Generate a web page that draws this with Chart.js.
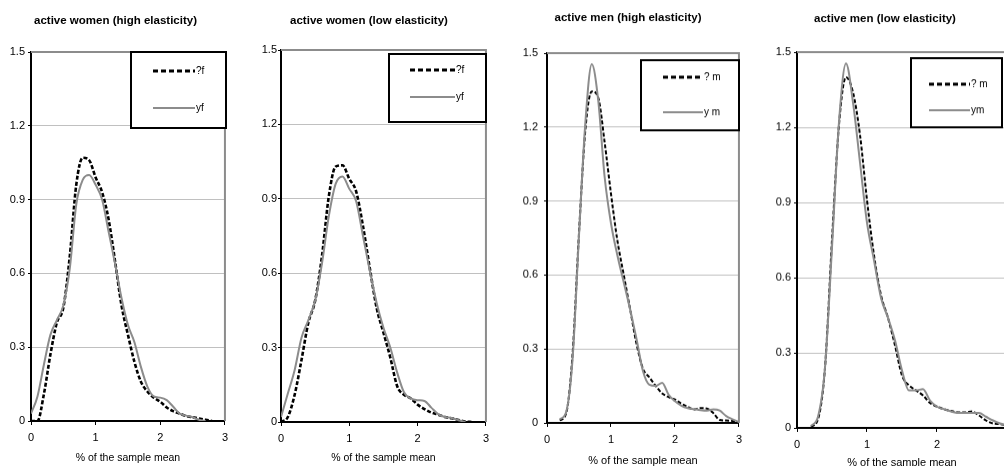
<!DOCTYPE html>
<html>
<head>
<meta charset="utf-8">
<script src="https://cdn.jsdelivr.net/npm/chart.js@4.4.0/dist/chart.umd.min.js"></script>
<style>
  html, body { margin: 0; padding: 0; background: #fff; width: 1004px; height: 466px; overflow: hidden; }
  .pan { position: absolute; top: 0; }
</style>
</head>
<body>
<div class="pan" id="p1"><canvas id="c1"></canvas></div>
<div class="pan" id="p2"><canvas id="c2"></canvas></div>
<div class="pan" id="p3"><canvas id="c3"></canvas></div>
<div class="pan" id="p4"><canvas id="c4"></canvas></div>
<script>
// densities, x = % of the sample mean
var xGrid = [0,0.1,0.2,0.3,0.4,0.5,0.6,0.7,0.8,0.9,1.0,1.1,1.2,1.3,1.4,1.5,1.6,1.7,1.8,1.9,2.0,2.1,2.2,2.3,2.4,2.5,2.6,2.7,2.8,2.9,3.0];
var xTicks = [0, 1, 2, 3];
var yTicks = [0, 0.3, 0.6, 0.9, 1.2, 1.5];

var titles = ["active women (high elasticity)", "active women (low elasticity)", "active men (high elasticity)", "active men (low elasticity)"];
var estLabels = ["?f", "?f", "? m", "? m"];
var obsLabels = ["yf", "yf", "y m", "ym"];
var xTitle = "% of the sample mean";

var womenHighEst = [0,0,0.11,0.27,0.40,0.46,0.67,0.96,1.07,1.06,0.99,0.93,0.82,0.65,0.47,0.35,0.24,0.16,0.12,0.095,0.078,0.055,0.04,0.03,0.02,0.015,0.01,0.005,0,null,null];
var womenHighObs = [0.03,0.10,0.23,0.35,0.41,0.47,0.62,0.88,0.98,1.0,0.96,0.90,0.77,0.64,0.50,0.39,0.32,0.22,0.14,0.10,0.095,0.085,0.058,0.03,0.022,0.015,0.005,0,null,null,null];
var womenLowEst = [0,0.02,0.11,0.25,0.40,0.49,0.67,0.91,1.03,1.035,0.98,0.93,0.79,0.62,0.46,0.36,0.26,0.145,0.11,0.095,0.07,0.052,0.038,0.03,0.02,0.015,0.008,0.002,0,null,null];
var womenLowObs = [0.02,0.115,0.21,0.34,0.41,0.49,0.64,0.83,0.96,0.99,0.94,0.89,0.75,0.61,0.48,0.38,0.30,0.20,0.12,0.095,0.088,0.085,0.058,0.032,0.02,0.016,0.007,0,null,null,null];
var menHighEst = [null,null,0.01,0.04,0.28,0.77,1.19,1.345,1.32,1.14,0.93,0.74,0.60,0.46,0.32,0.22,0.185,0.15,0.12,0.105,0.095,0.078,0.065,0.055,0.06,0.058,0.04,0.012,0.01,0.008,0.003];
var menHighObs = [null,null,0.015,0.045,0.26,0.76,1.22,1.455,1.31,1.00,0.81,0.68,0.57,0.46,0.34,0.21,0.155,0.15,0.163,0.115,0.088,0.07,0.06,0.056,0.052,0.05,0.055,0.05,0.028,0.015,0.004];
var menLowEst = [null,null,0.005,0.035,0.24,0.75,1.21,1.40,1.34,1.17,0.91,0.69,0.53,0.44,0.33,0.21,0.17,0.15,0.13,0.10,0.085,0.075,0.068,0.062,0.062,0.066,0.05,0.03,0.018,0.015,0.01];
var menLowObs = [null,null,0.008,0.045,0.24,0.72,1.22,1.455,1.30,1.06,0.82,0.67,0.52,0.44,0.35,0.23,0.15,0.15,0.155,0.11,0.085,0.075,0.066,0.06,0.06,0.06,0.06,0.045,0.03,0.018,0.01];

var estSeries = [womenHighEst, womenLowEst, menHighEst, menLowEst];
var obsSeries = [womenHighObs, womenLowObs, menHighObs, menLowObs];

// panel geometry: canvas box, plot edges (page px), legend box (canvas px)
var panels = [
  { left: 0,   width: 234, plotLeft: 31,  plotTop: 52, plotBottom: 421, titleY: 21, xTitleY: 458, padR: 3, yPad: 3,
    tick: 11, xt: 10.5, dashW: 2.6, leg: { x: 131, y: 52, w: 95, h: 76, l1: 153, l2: 195, r1: 71, r2: 108 } },
  { left: 245, width: 250, plotLeft: 281, plotTop: 50, plotBottom: 422, titleY: 21, xTitleY: 458, padR: 2, yPad: 1,
    tick: 11, xt: 10.5, dashW: 2.6, leg: { x: 144, y: 54, w: 97, h: 68, l1: 165, l2: 210, r1: 70, r2: 97 } },
  { left: 510, width: 238, plotLeft: 547, plotTop: 53, plotBottom: 422, titleY: 18, xTitleY: 460, padR: 2, yPad: 6,
    tick: 11, xt: 11, dashW: 2, leg: { x: 131, y: 60, w: 98, h: 70, l1: 153, l2: 193, r1: 77, r2: 112 } },
  { left: 760, width: 256, plotLeft: 797, plotTop: 52, plotBottom: 427, titleY: 19, xTitleY: 462, padR: 6, yPad: 3,
    tick: 11, xt: 11, dashW: 2, leg: { x: 151, y: 58, w: 91, h: 69, l1: 169, l2: 210, r1: 84, r2: 110 } }
];

var FONT = "'Liberation Sans', Arial, sans-serif";
var GRAY = "#8c8c8c";
var TITLE_SIZE = 11.5;

function pts(arr) {
  return xGrid.map(function(x, i) { return { x: x, y: arr[i] }; });
}

// gray top/right frame like the spreadsheet plot area
var framePlugin = {
  id: "frame",
  afterDatasetsDraw: function(chart) {
    var a = chart.chartArea, ctx = chart.ctx;
    ctx.save();
    ctx.strokeStyle = GRAY;
    ctx.lineWidth = 2;
    ctx.beginPath();
    ctx.moveTo(a.left, a.top);
    ctx.lineTo(a.right, a.top);
    ctx.lineTo(a.right, a.bottom);
    ctx.stroke();
    ctx.restore();
  }
};

// boxed legend inside the plot
var boxLegend = {
  id: "boxLegend",
  afterDraw: function(chart, args, o) {
    var g = o.box; if (!g) return;
    var ctx = chart.ctx;
    ctx.save();
    ctx.fillStyle = "#fff";
    ctx.fillRect(g.x, g.y, g.w, g.h);
    ctx.strokeStyle = "#000";
    ctx.lineWidth = 2;
    ctx.strokeRect(g.x, g.y, g.w, g.h);
    var rows = [g.r1, g.r2];
    var ds = chart.data.datasets;
    ctx.font = "10px " + FONT;
    ctx.textBaseline = "middle";
    ctx.textAlign = "left";
    for (var i = 0; i < ds.length; i++) {
      ctx.beginPath();
      ctx.strokeStyle = ds[i].borderColor;
      ctx.lineWidth = i === 0 ? 3 : 2;
      ctx.setLineDash(i === 0 ? [5, 3] : []);
      ctx.moveTo(g.l1, rows[i]);
      ctx.lineTo(g.l2, rows[i]);
      ctx.stroke();
      ctx.setLineDash([]);
      ctx.fillStyle = "#000";
      ctx.fillText(ds[i].label, g.l2 + 1, rows[i]);
    }
    ctx.restore();
  }
};

var charts = [];
for (var p = 0; p < 4; p++) {
  (function(k) {
    var g = panels[k];
    var tlh = TITLE_SIZE * 1.2;
    var tTop = g.titleY - tlh / 2;
    var tBot = g.plotTop - tlh - tTop;
    var xH = g.xTitleY - g.plotBottom + g.xt * 1.2 / 2;
    var div = document.getElementById("p" + (k + 1));
    div.style.left = g.left + "px";
    div.style.width = g.width + "px";
    div.style.height = (g.plotBottom + xH) + "px";
    charts.push(new Chart(document.getElementById("c" + (k + 1)), {
      type: "line",
      data: {
        datasets: [
          { label: estLabels[k], data: pts(estSeries[k]), borderColor: "#000", borderWidth: g.dashW,
            borderDash: [4, 2], pointRadius: 0, cubicInterpolationMode: "monotone", order: 1 },
          { label: obsLabels[k], data: pts(obsSeries[k]), borderColor: GRAY, borderWidth: 2,
            pointRadius: 0, cubicInterpolationMode: "monotone", order: 0 }
        ]
      },
      options: {
        responsive: true,
        maintainAspectRatio: false,
        animation: false,
        layout: { padding: { top: 0, right: g.padR, left: 0, bottom: 0 } },
        plugins: {
          legend: { display: false },
          tooltip: { enabled: false },
          title: { display: true, text: titles[k], color: "#000",
                   font: { family: FONT, size: TITLE_SIZE, weight: "bold", lineHeight: 1.2 },
                   padding: { top: tTop, bottom: tBot } },
          boxLegend: { box: g.leg }
        },
        scales: {
          x: {
            type: "linear", min: 0, max: 3,
            afterBuildTicks: function(s) { s.ticks = xTicks.map(function(v) { return { value: v }; }); },
            afterFit: function(s) { s.height = xH; },
            grid: { drawOnChartArea: false, drawTicks: true, tickLength: 4, tickColor: "#000", tickWidth: 1 },
            border: { color: "#000", width: 2 },
            ticks: { color: "#000", padding: 6, font: { family: FONT, size: g.tick } },
            title: { display: true, text: xTitle, color: "#000", padding: 0, font: { family: FONT, size: g.xt } }
          },
          y: {
            min: 0, max: 1.5,
            afterBuildTicks: function(s) { s.ticks = yTicks.map(function(v) { return { value: v }; }); },
            afterFit: function(s) { s.width = g.plotLeft - g.left; },
            grid: {
              color: function(c) { return c.tick && c.tick.value >= 1.5 ? "rgba(0,0,0,0)" : "#c0c0c0"; },
              lineWidth: 1, drawTicks: true, tickLength: 3, tickColor: "#000"
            },
            border: { color: "#000", width: 2 },
            ticks: { color: "#000", padding: g.yPad, font: { family: FONT, size: g.tick },
                     callback: function(v) { return String(+v.toFixed(1)); } }
          }
        }
      },
      plugins: [framePlugin, boxLegend]
    }));
  })(p);
}
</script>
</body>
</html>
